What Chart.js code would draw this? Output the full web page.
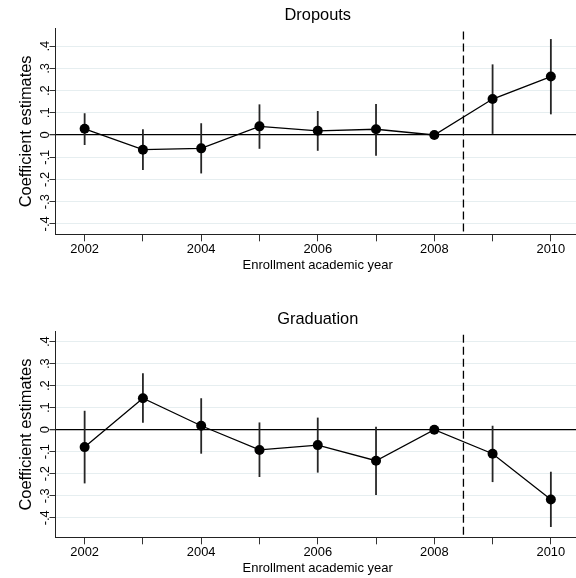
<!DOCTYPE html>
<html>
<head>
<meta charset="utf-8">
<script src="https://cdn.jsdelivr.net/npm/chart.js@4/dist/chart.umd.min.js"></script>
<style>
  html, body { margin: 0; padding: 0; background: #fff; overflow: hidden; }
  #wrap { position: relative; width: 576px; height: 578px; overflow: hidden; }
  .panel { position: absolute; left: 0; width: 585px; height: 289px; }
  #p1 { top: 0; }
  #p2 { top: 289px; }
</style>
</head>
<body>
<div id="wrap">
  <div class="panel" id="p1"><canvas id="dropouts" width="585" height="289"></canvas></div>
  <div class="panel" id="p2"><canvas id="graduation" width="585" height="289"></canvas></div>
</div>
<script>
// Enrollment cohorts
const years = [2002, 2003, 2004, 2005, 2006, 2007, 2008, 2009, 2010];
const xTickLabels = [2002, 2004, 2006, 2008, 2010];
const yTickValues = [-0.4, -0.3, -0.2, -0.1, 0, 0.1, 0.2, 0.3, 0.4];
const yTickLabels = ['-.4', '-.3', '-.2', '-.1', '0', '.1', '.2', '.3', '.4'];
const cutoffYear = 2008.5;

// Dropouts: point estimates and 95% confidence bounds (2008 is the reference year)
const dropoutsCoef = [0.028, -0.066, -0.060, 0.039, 0.019, 0.026, 0, 0.162, 0.263];
const dropoutsLow  = [-0.045, -0.158, -0.173, -0.062, -0.071, -0.093, null, 0.005, 0.093];
const dropoutsHigh = [0.098, 0.026, 0.053, 0.138, 0.108, 0.140, null, 0.318, 0.432];

// Graduation: point estimates and 95% confidence bounds
const gradCoef = [-0.079, 0.143, 0.018, -0.092, -0.070, -0.141, 0, -0.109, -0.317];
const gradLow  = [-0.244, 0.032, -0.109, -0.215, -0.195, -0.297, null, -0.238, -0.442];
const gradHigh = [0.086, 0.256, 0.143, 0.033, 0.055, 0.014, null, 0.018, -0.191];

const FONT = '"Liberation Sans", Arial, Helvetica, sans-serif';

// Vertical confidence spikes and the dashed cutoff line
const intervalPlugin = {
  id: 'intervals',
  beforeDatasetsDraw(chart, args, opts) {
    const {ctx, chartArea} = chart;
    const xs = chart.scales.x, ys = chart.scales.y;
    ctx.save();
    ctx.strokeStyle = '#262626';
    ctx.lineWidth = 1.8;
    opts.low.forEach((lo, i) => {
      const hi = opts.high[i];
      if (lo === null || hi === null) return;
      const x = xs.getPixelForValue(years[i]);
      ctx.beginPath();
      ctx.moveTo(x, ys.getPixelForValue(lo));
      ctx.lineTo(x, ys.getPixelForValue(hi));
      ctx.stroke();
    });
    const xc = xs.getPixelForValue(cutoffYear);
    ctx.strokeStyle = '#000';
    ctx.lineWidth = 1.3;
    ctx.setLineDash([8, 4]);
    ctx.beginPath();
    ctx.moveTo(xc, chartArea.top + 3);
    ctx.lineTo(xc, chartArea.bottom);
    ctx.stroke();
    ctx.restore();
  }
};

function makePanel(canvasId, title, coef, low, high, yMin, yMax, titlePad, bottomPad) {
  return new Chart(document.getElementById(canvasId), {
    type: 'line',
    data: {
      datasets: [{
        data: years.map((y, i) => ({x: y, y: coef[i]})),
        borderColor: '#000',
        borderWidth: 1.3,
        backgroundColor: '#000',
        pointRadius: 5,
        pointBorderWidth: 0,
        pointBackgroundColor: '#000',
        tension: 0,
        fill: false
      }]
    },
    options: {
      responsive: false,
      animation: false,
      devicePixelRatio: 1,
      layout: { padding: { top: 0, left: 0, right: 0, bottom: bottomPad } },
      plugins: {
        legend: { display: false },
        tooltip: { enabled: false },
        title: {
          display: true,
          text: title,
          fullSize: false,
          color: '#000',
          font: { family: FONT, size: 16.4, weight: 'normal' },
          padding: titlePad
        },
        intervals: { low: low, high: high }
      },
      scales: {
        x: {
          type: 'linear',
          min: 2001.5,
          max: 2010.5,
          afterBuildTicks(scale) { scale.ticks = years.map(v => ({value: v})); },
          ticks: {
            autoSkip: false,
            maxRotation: 0,
            minRotation: 0,
            padding: 0,
            color: '#000',
            font: { family: FONT, size: 12.9 },
            callback: (v) => xTickLabels.includes(v) ? String(v) : ''
          },
          grid: {
            display: true,
            drawOnChartArea: false,
            drawTicks: true,
            tickLength: 7,
            tickColor: '#333',
            tickWidth: 1
          },
          border: { display: true, color: '#222', width: 1 },
          title: {
            display: true,
            text: 'Enrollment academic year',
            color: '#000',
            font: { family: FONT, size: 13 },
            padding: { top: 0.4, bottom: 0 }
          }
        },
        y: {
          type: 'linear',
          min: yMin,
          max: yMax,
          afterBuildTicks(scale) { scale.ticks = yTickValues.map(v => ({value: v})); },
          afterFit(scale) { scale.width = 55.5; },
          ticks: {
            autoSkip: false,
            minRotation: 90,
            maxRotation: 90,
            crossAlign: 'center',
            padding: -3.3,
            color: '#000',
            font: { family: FONT, size: 12.9 },
            callback: (v) => {
              const i = yTickValues.findIndex(t => Math.abs(t - v) < 1e-9);
              return i >= 0 ? yTickLabels[i] : '';
            }
          },
          grid: {
            display: true,
            drawOnChartArea: true,
            drawTicks: true,
            tickLength: 6,
            tickColor: '#333',
            lineWidth: (c) => (c.tick && c.tick.value === 0) ? 1.3 : 1,
            color: (c) => (c.tick && c.tick.value === 0) ? '#000' : '#e6eef0'
          },
          border: { display: true, color: '#222', width: 1 },
          title: {
            display: true,
            text: 'Coefficient estimates',
            color: '#000',
            font: { family: FONT, size: 16.4 },
            padding: { top: 16.2, bottom: 0 }
          }
        }
      }
    },
    plugins: [intervalPlugin]
  });
}

makePanel('dropouts', 'Dropouts', dropoutsCoef, dropoutsLow, dropoutsHigh,
  -0.447, 0.48, { top: 5.2, bottom: 3.5 }, 16.2);
makePanel('graduation', 'Graduation', gradCoef, gradLow, gradHigh,
  -0.489, 0.445, { top: 20.5, bottom: 2.6 }, 2.2);
</script>
</body>
</html>
